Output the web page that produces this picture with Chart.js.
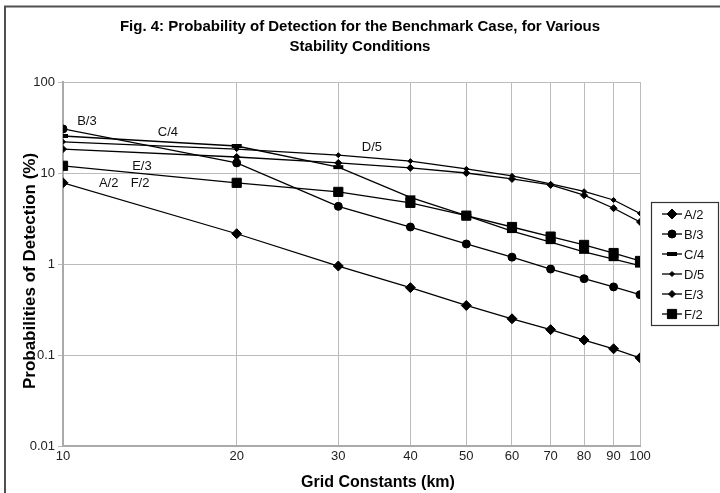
<!DOCTYPE html>
<html>
<head>
<meta charset="utf-8">
<script src="https://cdn.jsdelivr.net/npm/chart.js@4.4.1/dist/chart.umd.min.js"></script>
<style>
  html, body { margin: 0; padding: 0; background: #fff; }
  #wrap { width: 720px; height: 493px; position: relative; }
</style>
</head>
<body>
<div id="wrap"><canvas id="chart" width="720" height="493"></canvas></div>
<script>
// Grid constant (km) and probability of detection (%) per stability case
var gridKm = [10, 20, 30, 40, 50, 60, 70, 80, 90, 100];
var a2 = [7.8, 2.15, 0.95, 0.55, 0.35, 0.25, 0.19, 0.146, 0.117, 0.093];
var b3 = [30.5, 12.9, 4.3, 2.55, 1.66, 1.19, 0.88, 0.69, 0.56, 0.46];
var c4 = [25.5, 19.8, 11.6, 5.4, 3.4, 2.3, 1.74, 1.36, 1.13, 0.96];
var d5 = [22, 18.3, 15.7, 13.5, 11.1, 9.3, 7.6, 6.3, 5.05, 3.6];
var e3 = [18.3, 15, 12.9, 11.4, 10, 8.6, 7.4, 5.7, 4.1, 2.9];
var f2 = [12, 7.8, 6.2, 4.7, 3.4, 2.55, 2.0, 1.62, 1.32, 1.08];

var seriesNames = ["A/2", "B/3", "C/4", "D/5", "E/3", "F/2"];
var xTicks = [10, 20, 30, 40, 50, 60, 70, 80, 90, 100];
var yTicks = [0.01, 0.1, 1, 10, 100];

// in-plot labels, placed in data units
var noteText = ["B/3", "C/4", "D/5", "E/3", "A/2", "F/2"];
var noteX = [11.0, 15.2, 34.3, 13.7, 12.0, 13.6];
var noteY = [37.3, 28.2, 19.3, 11.9, 7.76, 7.76];

var titleLines = ["Fig. 4: Probability of Detection for the Benchmark Case, for Various", "Stability Conditions"];
var xTitle = "Grid Constants (km)";
var yTitle = "Probabilities of Detection (%)";

var FONT = "'Liberation Sans', Arial, sans-serif";

var markers = [
    { style: "rectRot", radius: 5, border: 1 },
    { style: "circle", radius: 4, border: 1 },
    { style: "line", radius: 5, border: 4 },
    { style: "rectRot", radius: 2.5, border: 1 },
    { style: "rectRot", radius: 3.5, border: 1 },
    { style: "rect", radius: 6.5, border: 1 }
];

var values = [a2, b3, c4, d5, e3, f2];
var datasets = values.map(function (vals, i) {
    return {
        label: seriesNames[i],
        data: vals.map(function (v, j) { return { x: gridKm[j], y: v }; }),
        borderColor: "#000",
        backgroundColor: "#000",
        borderWidth: 1.3,
        pointStyle: markers[i].style,
        pointRadius: markers[i].radius,
        pointBorderWidth: markers[i].border,
        pointBackgroundColor: "#000",
        pointBorderColor: "#000",
        tension: 0
    };
});

var decorPlugin = {
    id: "decor",
    afterDraw: function (chart) {
        var ctx = chart.ctx;
        var xs = chart.scales.x;
        var ys = chart.scales.y;
        ctx.save();

        // outer frame
        ctx.strokeStyle = "#505050";
        ctx.lineWidth = 2;
        ctx.strokeRect(5, 6.5, 800, 600);

        // title
        ctx.fillStyle = "#000";
        ctx.textAlign = "center";
        ctx.textBaseline = "alphabetic";
        ctx.font = "bold 15px " + FONT;
        ctx.fillText(titleLines[0], 360, 31);
        ctx.fillText(titleLines[1], 360, 51);

        // axis titles
        ctx.font = "bold 16px " + FONT;
        ctx.textBaseline = "middle";
        ctx.fillText(xTitle, 378, 483);
        ctx.font = "bold 17px " + FONT;
        ctx.save();
        ctx.translate(30, 271);
        ctx.rotate(-Math.PI / 2);
        ctx.fillText(yTitle, 0, 0);
        ctx.restore();

        // labels inside the plot
        ctx.font = "13px " + FONT;
        ctx.fillStyle = "#111";
        noteText.forEach(function (t, i) {
            ctx.fillText(t, xs.getPixelForValue(noteX[i]), ys.getPixelForValue(noteY[i]));
        });

        // legend
        var lx = 651, ly = 202, lw = 67, lh = 123;
        ctx.strokeStyle = "#333";
        ctx.lineWidth = 1.2;
        ctx.fillStyle = "#fff";
        ctx.fillRect(lx, ly, lw, lh);
        ctx.strokeRect(lx + 0.5, ly + 0.5, lw, lh);
        ctx.textAlign = "left";
        ctx.font = "13px " + FONT;
        seriesNames.forEach(function (name, i) {
            var cy = ly + 12 + i * 20;
            ctx.strokeStyle = "#000";
            ctx.lineWidth = 1.3;
            ctx.beginPath();
            ctx.moveTo(662, cy);
            ctx.lineTo(682, cy);
            ctx.stroke();
            ctx.fillStyle = "#000";
            ctx.lineWidth = markers[i].border;
            Chart.helpers.drawPoint(ctx, {
                pointStyle: markers[i].style,
                radius: markers[i].radius,
                rotation: 0,
                borderWidth: markers[i].border
            }, 672, cy);
            ctx.fillStyle = "#111";
            ctx.fillText(name, 684, cy + 1);
        });
        ctx.restore();
    }
};

var chart = new Chart(document.getElementById("chart").getContext("2d"), {
    type: "line",
    data: { datasets: datasets },
    plugins: [decorPlugin],
    options: {
        responsive: false,
        animation: false,
        devicePixelRatio: 1,
        layout: { padding: { left: 5, right: 80, top: 82, bottom: 0 } },
        plugins: { legend: { display: false }, tooltip: { enabled: false } },
        scales: {
            x: {
                type: "logarithmic",
                min: 10,
                max: 100,
                afterBuildTicks: function (scale) {
                    scale.ticks = xTicks.map(function (v) { return { value: v }; });
                },
                afterFit: function (scale) { scale.height = 47; },
                ticks: {
                    autoSkip: false,
                    maxRotation: 0,
                    padding: 3,
                    color: "#222",
                    font: { family: FONT, size: 13 },
                    callback: function (v) { return String(v); }
                },
                grid: { color: "#bcbcbc", lineWidth: 1, drawTicks: false },
                border: { color: "#aaaaaa", width: 2 }
            },
            y: {
                type: "logarithmic",
                min: 0.01,
                max: 100,
                afterBuildTicks: function (scale) {
                    scale.ticks = yTicks.map(function (v) { return { value: v }; });
                },
                afterFit: function (scale) { scale.width = 58; },
                ticks: {
                    autoSkip: false,
                    padding: 3,
                    color: "#222",
                    font: { family: FONT, size: 13 },
                    callback: function (v) { return String(v); }
                },
                grid: { color: "#bcbcbc", lineWidth: 1, tickLength: 5 },
                border: { color: "#aaaaaa", width: 2 }
            }
        }
    }
});
</script>
</body>
</html>
